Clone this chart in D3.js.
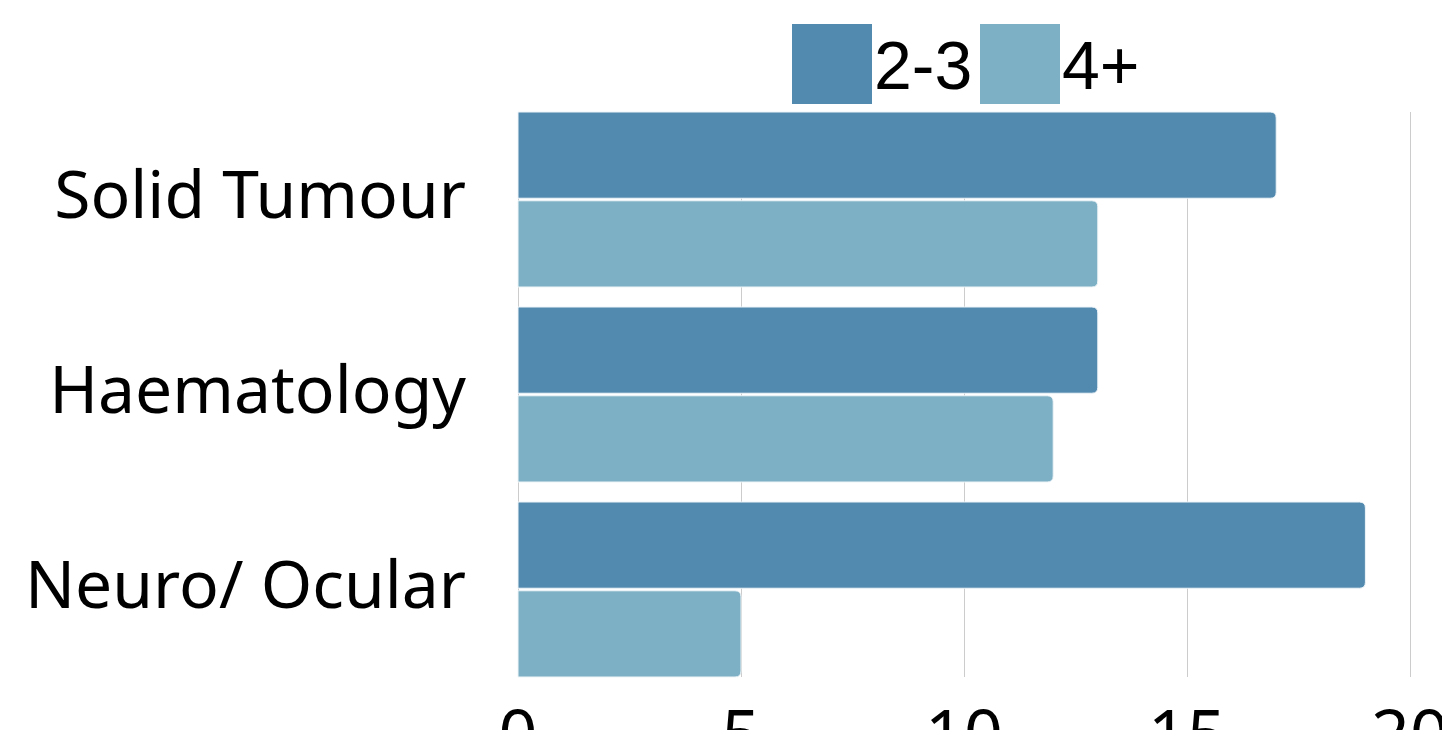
<!DOCTYPE html>
<html lang="en">
<head>
<meta charset="UTF-8">
<title>Bars by category</title>
<style>
  body { margin: 0; background: #fff; }
  text { font-family: "Noto Sans", "Open Sans", sans-serif; }
</style>
</head>
<body>
<svg id="chart" width="1442" height="730"></svg>
<script src="https://d3js.org/d3.v7.min.js"></script>
<script>
// data
var categories = ["Solid Tumour", "Haematology", "Neuro/ Ocular"]
var seriesNames = ["2-3", "4+"]
var values23 = [17, 13, 19]
var values4 = [13, 12, 5]
var tickValues = [0, 5, 10, 15, 20]
var colors = ["#5289ae", "#7eb0c5"]

var svg = d3.select("#chart")

var x = d3.scaleLinear().domain([0, 20]).range([518, 1410])
var y = d3.scaleBand().domain(categories).range([112, 677]).paddingInner(20 / 195)
var ySub = d3.scaleBand().domain(seriesNames).range([0, y.bandwidth()]).paddingInner(5 / 175)

// grid lines
svg.append("g")
    .selectAll("line")
    .data(tickValues)
    .enter()
    .append("line")
    .attr("x1", function (d) { return x(d) + 0.5 })
    .attr("x2", function (d) { return x(d) + 0.5 })
    .attr("y1", 112)
    .attr("y2", 677)
    .attr("stroke", "#cccccc")
    .attr("stroke-width", 1)

// bars, rounded on the right end only
function barPath(x0, x1, y0, h, r) {
    return "M" + x0 + "," + y0 +
        "H" + (x1 - r) +
        "Q" + x1 + "," + y0 + " " + x1 + "," + (y0 + r) +
        "V" + (y0 + h - r) +
        "Q" + x1 + "," + (y0 + h) + " " + (x1 - r) + "," + (y0 + h) +
        "H" + x0 + "Z"
}

var rows = []
categories.forEach(function (c, i) {
    rows.push({ cat: c, key: seriesNames[0], value: values23[i], color: colors[0] })
    rows.push({ cat: c, key: seriesNames[1], value: values4[i], color: colors[1] })
})

svg.append("g")
    .selectAll("path")
    .data(rows)
    .enter()
    .append("path")
    .attr("d", function (d) {
        return barPath(x(0), x(d.value), y(d.cat) + ySub(d.key), ySub.bandwidth(), 6)
    })
    .attr("fill", function (d) { return d.color })
    .attr("stroke", "#eef5f8")
    .attr("stroke-width", 1)

// category labels
svg.append("g")
    .selectAll("text")
    .data(categories)
    .enter()
    .append("text")
    .attr("x", 466)
    .attr("y", function (d) { return y(d) + y.bandwidth() / 2 })
    .attr("dy", 18)
    .attr("text-anchor", "end")
    .style("font-size", "66px")
    .style("fill", "#000")
    .text(function (d) { return d })

// x tick labels (cut off at the bottom like the source)
svg.append("g")
    .selectAll("text")
    .data(tickValues)
    .enter()
    .append("text")
    .attr("x", function (d) { return x(d) })
    .attr("y", 758)
    .attr("text-anchor", "middle")
    .style("font-size", "68px")
    .style("fill", "#000")
    .text(function (d) { return d })

// legend
var legendX = [792, 980]
var legend = svg.append("g")
    .selectAll("g")
    .data(seriesNames)
    .enter()
    .append("g")

legend.append("rect")
    .attr("x", function (d, i) { return legendX[i] })
    .attr("y", 24)
    .attr("width", 80)
    .attr("height", 80)
    .attr("fill", function (d, i) { return colors[i] })

legend.append("text")
    .attr("x", function (d, i) { return legendX[i] + 82 })
    .attr("y", 89)
    .style("font-family", "'Liberation Sans Narrow', 'Liberation Sans', sans-serif")
    .style("font-size", "68px")
    .style("fill", "#000")
    .text(function (d) { return d })
</script>
</body>
</html>
